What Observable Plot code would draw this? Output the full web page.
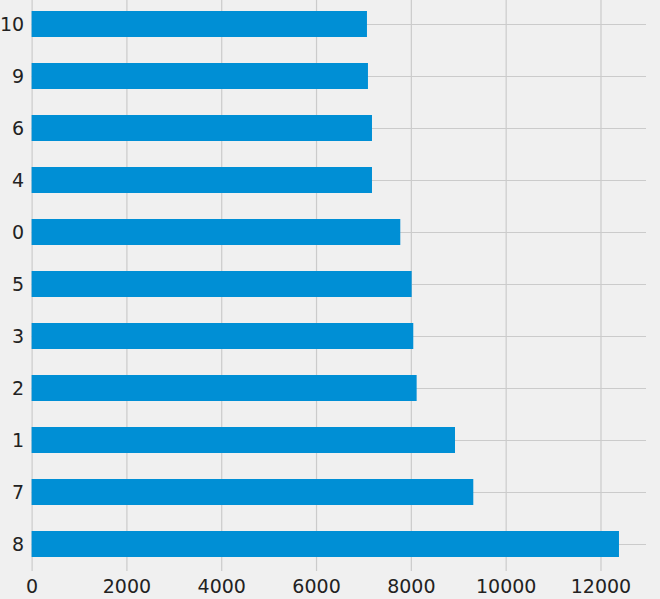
<!DOCTYPE html>
<html>
<head>
<meta charset="utf-8">
<script src="https://cdn.jsdelivr.net/npm/d3@7"></script>
<script src="https://cdn.jsdelivr.net/npm/@observablehq/plot@0.6"></script>
<style>
  html, body { margin: 0; padding: 0; background: #f0f0f0; }
  #chart svg { display: block; }
</style>
</head>
<body>
<div id="chart"></div>
<script>
const categories = ["10", "9", "6", "4", "0", "5", "3", "2", "1", "7", "8"];
const values = [7074, 7095, 7180, 7180, 7777, 8017, 8051, 8122, 8931, 9317, 12390];
const xTicks = [0, 2000, 4000, 6000, 8000, 10000, 12000];

const data = categories.map((c, i) => ({category: c, value: values[i]}));

const chart = Plot.plot({
  width: 660,
  height: 599,
  marginTop: 0,
  marginBottom: 28,
  marginLeft: 31.6,
  marginRight: 14,
  style: {background: "#f0f0f0", fontFamily: "DejaVu Sans", fontSize: "19px", color: "#222"},
  x: {domain: [0, 12960], range: [31.6, 646], label: null},
  y: {domain: categories, range: [-3.65, 571.6], paddingInner: 0.5, paddingOuter: 0.25, label: null},
  marks: [
    Plot.gridX(xTicks, {stroke: "#cbcbcb", strokeOpacity: 1, strokeWidth: 1.2}),
    Plot.gridY(categories, {stroke: "#cbcbcb", strokeOpacity: 1, strokeWidth: 1.2}),
    Plot.barX(data, {x: "value", y: "category", fill: "#008fd5"}),
    Plot.axisX(xTicks, {tickSize: 0, tickPadding: 7.5, tickFormat: d3.format("d"), fontSize: 19, fill: "#222", label: null}),
    Plot.axisY(categories, {tickSize: 0, tickPadding: 8, fontSize: 19, fill: "#222", label: null})
  ]
});
document.getElementById("chart").appendChild(chart);
</script>
</body>
</html>
